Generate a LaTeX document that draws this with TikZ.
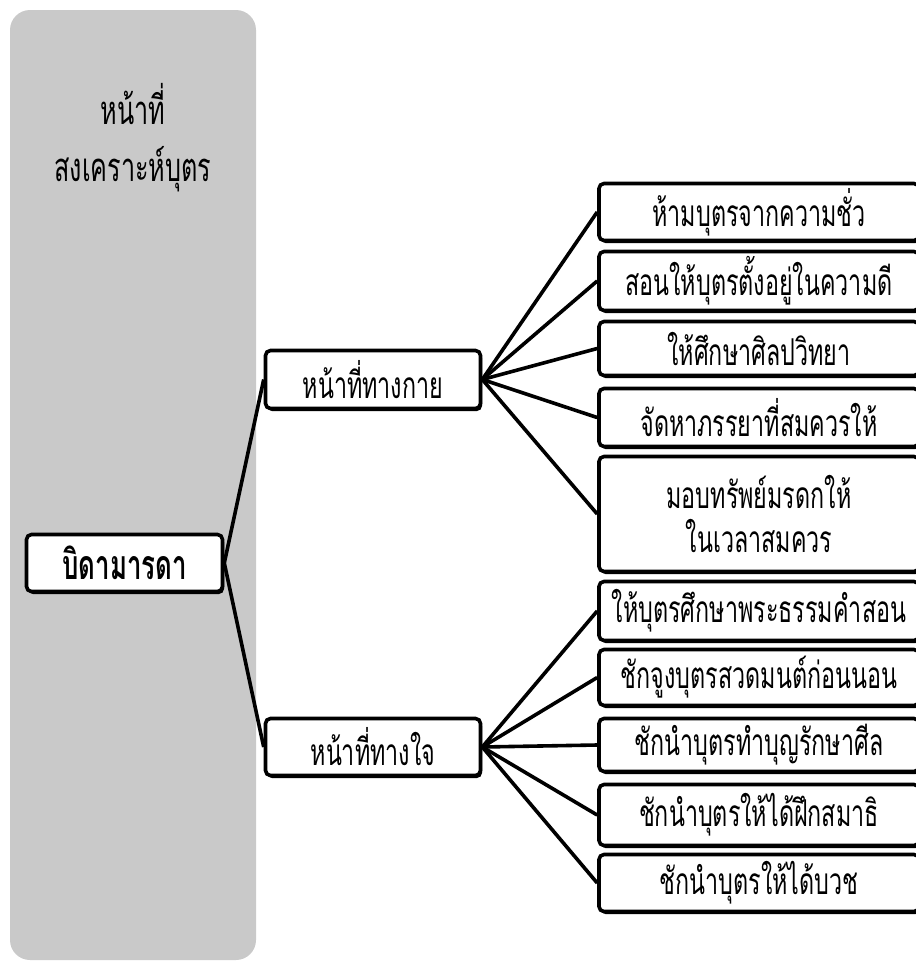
\documentclass[tikz,border=0pt]{standalone}
\usepackage{fontspec}
\newfontfamily\thaifont[Script=Thai,FakeStretch=0.63]{Loma}
\usetikzlibrary{shadows}
\definecolor{panelgray}{HTML}{C9C9C9}
\begin{document}
\begin{tikzpicture}[x=1pt, y=-1pt,
    duty/.style={draw, line width=3.6pt, rounded corners=5pt, fill=white,
      drop shadow={shadow xshift=1.5pt, shadow yshift=-2.5pt, fill=black, opacity=1},
      inner sep=0pt, align=center, font=\thaifont\fontsize{37}{44}\selectfont},
    leaf/.style={duty, minimum width=320pt},
    link/.style={line width=3.6pt, black}]
    \useasboundingbox (0,0) rectangle (916,962);
    % side panel
    \fill[panelgray, rounded corners=20pt] (10,10) rectangle (256,960);
    \node[align=center, font=\thaifont\fontsize{40}{57}\selectfont] at (133,138) (title)
      {หน้าที่\\สงเคราะห์บุตร};
    % root and middle nodes
    \node[duty, minimum width=196pt, minimum height=57pt,
      font=\thaifont\bfseries\fontsize{41}{44}\selectfont] at (124.5,563) (0) {บิดามารดา};
    \node[duty, minimum width=215pt, minimum height=58pt] at (373,379.5) (1) {หน้าที่ทางกาย};
    \node[duty, minimum width=215pt, minimum height=57pt] at (373,747) (2) {หน้าที่ทางใจ};
    % physical duties
    \node[leaf, minimum height=57pt] at (759,212)   (11) {ห้ามบุตรจากความชั่ว};
    \node[leaf, minimum height=59pt] at (759,281)   (12) {สอนให้บุตรตั้งอยู่ในความดี};
    \node[leaf, minimum height=54pt] at (759,348.5) (13) {ให้ศึกษาศิลปวิทยา};
    \node[leaf, minimum height=58pt] at (759,417.5) (14) {จัดหาภรรยาที่สมควรให้};
    \node[leaf, minimum height=115pt] at (759,514)  (15) {มอบทรัพย์มรดกให้\\ในเวลาสมควร};
    % mental duties
    \node[leaf, minimum height=59pt] at (759,611)   (21) {ให้บุตรศึกษาพระธรรมคำสอน};
    \node[leaf, minimum height=56pt] at (759,677.5) (22) {ชักจูงบุตรสวดมนต์ก่อนนอน};
    \node[leaf, minimum height=53pt] at (759,745)   (23) {ชักนำบุตรทำบุญรักษาศีล};
    \node[leaf, minimum height=61pt] at (759,815)   (24) {ชักนำบุตรให้ได้ฝึกสมาธิ};
    \node[leaf, minimum height=57pt] at (759,883)   (25) {ชักนำบุตรให้ได้บวช};

    % root connections
    \path[link] (0.east) edge (1.west);
    \path[link] (0.east) edge (2.west);
    % physical connections
    \path[link] (1.east) edge (11.west);
    \path[link] (1.east) edge (12.west);
    \path[link] (1.east) edge (13.west);
    \path[link] (1.east) edge (14.west);
    \path[link] (1.east) edge (15.west);
    % mental connections
    \path[link] (2.east) edge (21.west);
    \path[link] (2.east) edge (22.west);
    \path[link] (2.east) edge (23.west);
    \path[link] (2.east) edge (24.west);
    \path[link] (2.east) edge (25.west);
\end{tikzpicture}
\end{document}
